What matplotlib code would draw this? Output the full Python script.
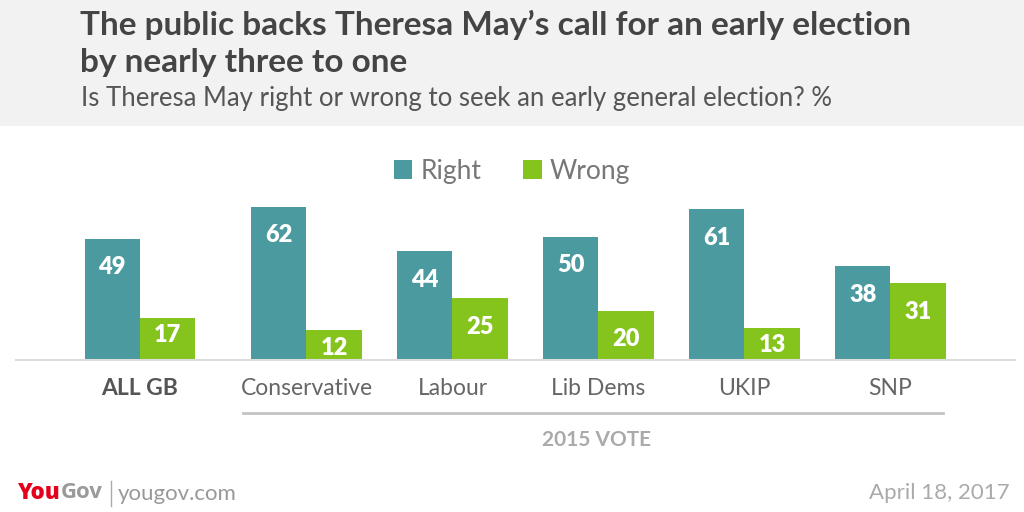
import numpy as np
import matplotlib
matplotlib.use("Agg")
from matplotlib import pyplot as plt
from matplotlib.patches import Rectangle
from matplotlib.lines import Line2D

# data
groups = ["ALL GB", "Conservative", "Labour", "Lib Dems", "UKIP", "SNP"]
right = [49, 62, 44, 50, 61, 38]
wrong = [17, 12, 25, 20, 13, 31]
series = ["Right", "Wrong"]

title_lines = ["The public backs Theresa May\u2019s call for an early election",
               "by nearly three to one"]
subtitle = "Is Theresa May right or wrong to seek an early general election? %"
group_note = "2015 VOTE"
date_text = "April 18, 2017"

teal = "#4a9a9f"
green = "#84c41c"
font = "Lato"

W, H = 1024, 512
fig = plt.figure(figsize=(W / 100, H / 100), dpi=100)
fig.patch.set_facecolor("white")

# grey header band
fig.add_artist(Rectangle((0, 1 - 126 / H), 1, 126 / H, transform=fig.transFigure,
                         facecolor="#f2f2f2", edgecolor="none", zorder=0))
for line, base in zip(title_lines, (35, 72)):
    fig.text(80 / W, 1 - base / H, line, ha="left", va="baseline", fontsize=24,
             fontweight="bold", color="#444444", family=font)
fig.text(81 / W, 1 - 106 / H, subtitle, ha="left", va="baseline", fontsize=18.5,
         fontweight="normal", color="#555555", family=font)

# plot area: baseline at y=360px, 2.468 px per percentage point
ax = fig.add_axes([16 / W, 1 - 360 / H, 999 / W, 200 / H])
ax.set_facecolor("none")
pos = np.arange(len(groups)) + np.r_[0, np.full(len(groups) - 1, 0.14)]
w = 0.38
ax.bar(pos - w / 2, right, w, color=teal, label=series[0])
ax.bar(pos + w / 2, wrong, w, color=green, label=series[1])
ax.set_xlim((16 - 140) / 146, (1015 - 140) / 146)
ax.set_ylim(0, 200 / 2.468)

for vals, off in ((right, -w / 2), (wrong, w / 2)):
    for x, v in zip(pos, vals):
        drop = 11.5 if v >= 20 else 7
        ax.text(x + off, v - drop, str(v), ha="center", va="center", color="white",
                fontsize=17, fontweight="heavy", family=font)

for s in ("top", "left", "right"):
    ax.spines[s].set_visible(False)
ax.spines["bottom"].set_color("#dddddd")
ax.spines["bottom"].set_linewidth(1.5)
ax.set_yticks([])
ax.set_xticks(pos, groups)
ax.tick_params(axis="x", length=0, pad=13, labelsize=16.5, labelcolor="#666666")
for i, lab in enumerate(ax.get_xticklabels()):
    lab.set_family(font)
    lab.set_fontweight("bold" if i == 0 else "normal")
    if i == 0:
        lab.set_color("#555555")

leg = fig.legend(loc="center", bbox_to_anchor=(512 / W, 1 - 171 / H), ncol=2,
                 frameon=False, handlelength=0.7, handleheight=0.7,
                 handletextpad=0.3, columnspacing=1.6,
                 prop={"family": font, "size": 19, "weight": "normal"})
for t in leg.get_texts():
    t.set_color("#777777")

# bracket under the 2015 vote groups
fig.add_artist(Line2D([243 / W, 943 / W], [1 - 413 / H, 1 - 413 / H],
                      transform=fig.transFigure, color="#c4c4c4", lw=2))
fig.text(597 / W, 1 - 440 / H, group_note, ha="center", va="center", fontsize=15,
         fontweight="bold", color="#aaaaaa", family=font)

# footer
fig.canvas.draw()
r = fig.canvas.get_renderer()
t1 = fig.text(18 / W, 1 - 493 / H, "You", ha="left", va="center", fontsize=16,
              fontweight="heavy", color="#e4001b", family="Open Sans")
bb = t1.get_window_extent(r)
t2 = fig.text(bb.x1 / W, 1 - 493 / H, "Gov", ha="left", va="center", fontsize=16,
              fontweight="bold", color="#9a9a9a", family="Open Sans")
bb = t2.get_window_extent(r)
fig.add_artist(Line2D([(bb.x1 + 8) / W] * 2, [1 - 481 / H, 1 - 506 / H],
                      transform=fig.transFigure, color="#aaaaaa", lw=1))
fig.text((bb.x1 + 15) / W, 1 - 494 / H, "yougov.com", ha="left", va="center",
         fontsize=16, fontweight="normal", color="#999999", family=font)
fig.text(1010 / W, 1 - 493 / H, date_text, ha="right", va="center", fontsize=16,
         fontweight="normal", color="#aaaaaa", family=font)

fig.savefig("out.png", dpi=100)
